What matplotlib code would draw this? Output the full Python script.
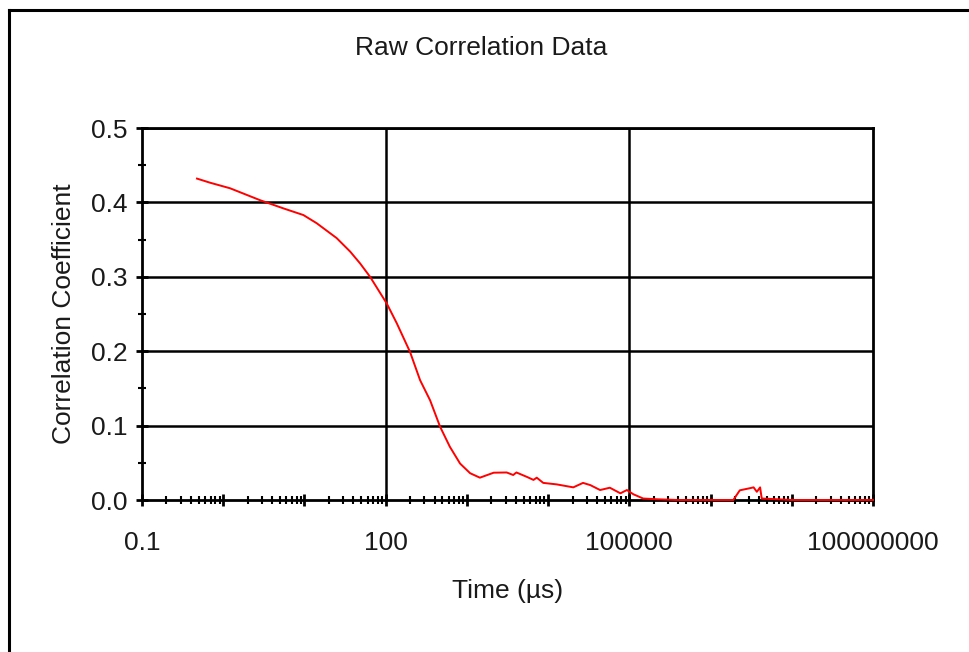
import matplotlib
matplotlib.use("Agg")
import matplotlib.pyplot as plt
from matplotlib.ticker import FixedLocator, LogLocator, NullFormatter, FuncFormatter
from matplotlib.lines import Line2D
import numpy as np

plt.rcParams["font.family"] = ["Liberation Sans", "DejaVu Sans"]

# correlation curve (time in µs, log10 stored)
log_time = [-0.323, -0.163, 0.084, 0.453, 0.740, 0.987, 1.151, 1.397, 1.562, 1.685,
            1.808, 1.911, 2.014, 2.137, 2.300, 2.424, 2.547, 2.670, 2.790, 2.916,
            3.040, 3.160, 3.330, 3.490, 3.570, 3.610, 3.740, 3.820, 3.860, 3.940,
            4.105, 4.310, 4.430, 4.520, 4.640, 4.760, 4.890, 4.970, 5.050, 5.170,
            5.340, 5.600, 6.000, 6.280, 6.360, 6.490, 6.530, 6.570, 6.610, 6.630,
            7.000, 8.000]
corr = [0.432, 0.4265, 0.419, 0.403, 0.392, 0.383, 0.372, 0.352, 0.334, 0.318,
        0.300, 0.282, 0.264, 0.2375, 0.199, 0.161, 0.134, 0.0985, 0.0716, 0.049,
        0.036, 0.030, 0.0367, 0.037, 0.0336, 0.037, 0.031, 0.027, 0.030, 0.023,
        0.021, 0.017, 0.023, 0.020, 0.0134, 0.0165, 0.009, 0.0134, 0.0077, 0.002,
        0.001, 0.0, 0.0, 0.0, 0.013, 0.016, 0.017, 0.011, 0.017, 0.002,
        0.0, 0.0]
x_labels = [0.1, 100, 100000, 100000000]
y_ticks = [0.0, 0.1, 0.2, 0.3, 0.4, 0.5]

time = 10 ** np.array(log_time)


def fmt_x(v, pos):
    for lab in x_labels:
        if np.isclose(v, lab):
            return f"{lab:g}" if lab < 1 else f"{int(lab)}"
    return ""


fig = plt.figure(figsize=(9.69, 6.52), dpi=100)
ax = fig.add_axes([142 / 969, 152 / 652, 731 / 969, 372 / 652])

ax.plot(time, corr, color="#ff0000", lw=1.4, zorder=3, clip_on=False)

ax.set_xscale("log")
ax.set_xlim(0.1, 1e8)
ax.set_ylim(0, 0.5)

ax.xaxis.set_major_locator(LogLocator(base=10, numticks=20))
ax.xaxis.set_major_formatter(FuncFormatter(fmt_x))
ax.xaxis.set_minor_locator(LogLocator(base=10, subs=np.arange(2, 10), numticks=200))
ax.xaxis.set_minor_formatter(NullFormatter())

ax.yaxis.set_major_locator(FixedLocator(y_ticks))
ax.yaxis.set_minor_locator(FixedLocator([0.05, 0.15, 0.25, 0.35, 0.45]))
ax.set_yticklabels([f"{v:.1f}" for v in y_ticks])

ax.tick_params(axis="both", which="major", direction="inout", length=9, width=2,
               labelsize=19, color="black", labelcolor="#1a1a1a")
ax.tick_params(axis="both", which="minor", direction="inout", length=6, width=1.5)
ax.tick_params(axis="x", which="major", pad=18)
ax.tick_params(axis="y", which="major", pad=6)

# grid: every 0.1 horizontally, every third decade vertically
for v in y_ticks[1:]:
    ax.axhline(v, color="black", lw=1.8, zorder=1)
for v in [100, 100000]:
    ax.axvline(v, color="black", lw=1.8, zorder=1)

for s in ax.spines.values():
    s.set_linewidth(2)
    s.set_color("black")

ax.set_xlabel("Time (µs)", fontsize=19, labelpad=17, color="#1a1a1a")
ax.set_ylabel("Correlation Coefficient", fontsize=19, labelpad=11, color="#1a1a1a")
fig.text(0.497, 1 - 48 / 652, "Raw Correlation Data", fontsize=19, ha="center", va="center",
         color="#1a1a1a")

# outer chart frame (only left and top edges visible)
fig.add_artist(Line2D([9 / 969, 9 / 969], [0, 1 - 10 / 652], color="black", lw=2.2))
fig.add_artist(Line2D([9 / 969, 1], [1 - 10 / 652, 1 - 10 / 652], color="black", lw=2.2))

fig.savefig("out.png", dpi=100)
